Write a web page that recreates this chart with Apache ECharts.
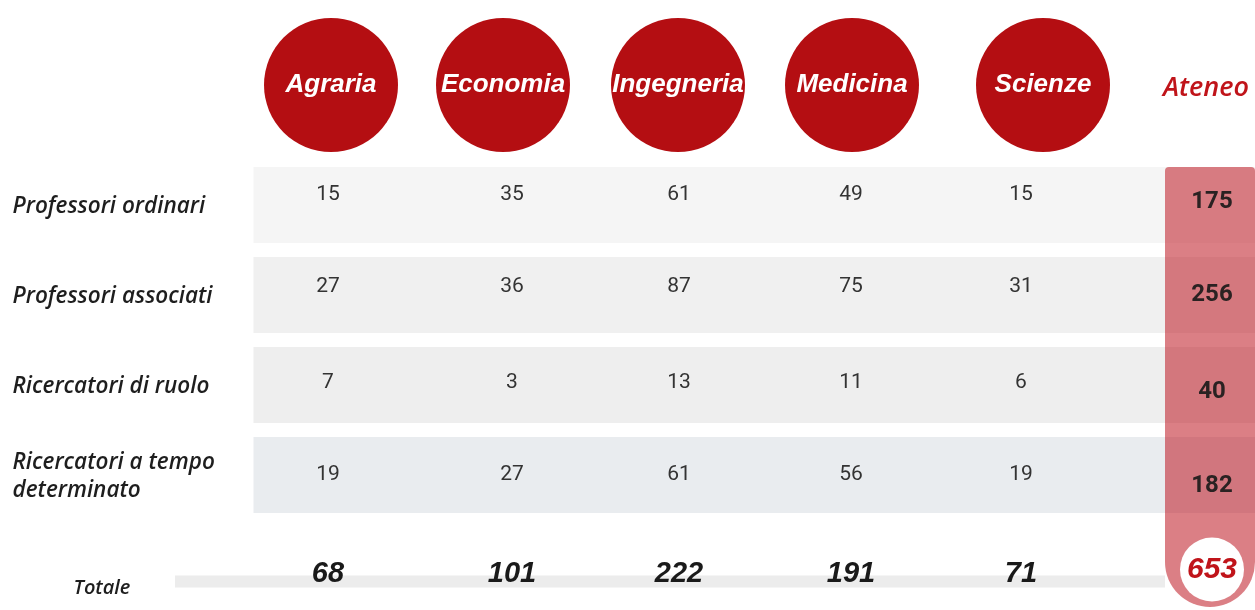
<!DOCTYPE html>
<html><head><meta charset="utf-8">
<script src="https://cdn.jsdelivr.net/npm/echarts@6/dist/echarts.min.js"></script>
<style>html,body{margin:0;padding:0;background:#fff}#c{width:1255px;height:610px}</style>
</head><body><div id="c"></div>
<script>
// ---- data ----
const departments = ['Agraria', 'Economia', 'Ingegneria', 'Medicina', 'Scienze'];
const ateneoLabel = 'Ateneo';
const roles = ['Professori ordinari', 'Professori associati', 'Ricercatori di ruolo', 'Ricercatori a tempo\ndeterminato'];
const professoriOrdinari = [15, 35, 61, 49, 15];
const professoriAssociati = [27, 36, 87, 75, 31];
const ricercatoriDiRuolo = [7, 3, 13, 11, 6];
const ricercatoriTempoDeterminato = [19, 27, 61, 56, 19];
const ateneoByRole = [175, 256, 40, 182];
const totaleLabel = 'Totale';
const totaleByDepartment = [68, 101, 222, 191, 71];
const totaleAteneo = 653;

// ---- build ----
const columns = departments.concat([ateneoLabel]);
const matrix = [professoriOrdinari, professoriAssociati, ricercatoriDiRuolo, ricercatoriTempoDeterminato];
const A = columns.length - 1; // Ateneo column index

const RED = '#b40e12';
const circleShift = [0, -3, -3, -4, 12];
const numShift = [-3, 6, -2, -5, -10];
const deptRowOffset = [-10, -8, -2, 0];
const ateRowOffset = [-3, 0, 7, 11];
const bandColors = ['#f5f5f5', '#f0f0f0', '#eeeeee', '#e9ecef'];

const headerData = columns.map((c, i) => [i, 0]);
const bandData = roles.map((r, i) => [0, i]);
const cellData = [];
matrix.forEach((row, ri) => row.forEach((v, ci) => cellData.push([ci, ri, v])));
const ateneoData = ateneoByRole.map((v, ri) => [A, ri, v]);
const totData = totaleByDepartment.map((v, ci) => [ci, 0, v]);

const labelFont = {fontFamily: 'Open Sans', fontStyle: 'italic', fontWeight: 600, color: '#1e1e1e'};

// column axis: one unit per column, the Ateneo column running off the right edge
function xAx(g) { return {type: 'value', gridIndex: g, min: -0.5, max: 5.28, show: false}; }

const chart = echarts.init(document.getElementById('c'), null, {renderer: 'canvas'});
chart.setOption({
  animation: false,
  backgroundColor: '#ffffff',
  grid: [
    {left: 243.5, right: 0, top: 18, height: 134},
    {left: 243.5, right: 0, top: 162, height: 360},
    {left: 243.5, right: 0, top: 553, height: 60}
  ],
  xAxis: [xAx(0), xAx(1), xAx(2)],
  yAxis: [
    {type: 'category', gridIndex: 0, data: ['h'], show: false},
    {type: 'category', gridIndex: 1, data: roles, inverse: true,
      axisLine: {show: false}, axisTick: {show: false}, splitLine: {show: false},
      axisLabel: Object.assign({align: 'left', margin: 231, fontSize: 22.5, lineHeight: 28}, labelFont)},
    {type: 'category', gridIndex: 2, data: [totaleLabel], show: false}
  ],
  series: [
    { // header circles
      type: 'custom', xAxisIndex: 0, yAxisIndex: 0, clip: false, z: 2, data: headerData,
      renderItem(params, api) {
        const i = api.value(0);
        const p = api.coord([i, 0]);
        const name = columns[i];
        if (i === A) {
          return {type: 'text', x: p[0], y: p[1] + 3,
            style: {text: name, fill: '#c0141a', font: 'italic 600 27px "Open Sans"', align: 'center', verticalAlign: 'middle'}};
        }
        const cx = p[0] + circleShift[i];
        return {type: 'group', children: [
          {type: 'circle', shape: {cx: cx, cy: p[1], r: 67}, style: {fill: RED}},
          {type: 'text', x: cx, y: p[1], style: {text: name, fill: '#ffffff',
            font: 'italic bold 26px "Liberation Sans"', align: 'center', verticalAlign: 'middle'}}
        ]};
      }
    },
    { // row bands
      type: 'custom', xAxisIndex: 1, yAxisIndex: 1, clip: false, z: 1, data: bandData,
      renderItem(params, api) {
        const r = api.value(1);
        const p0 = api.coord([0, r]);
        const s = api.size([1, 1]);
        const x0 = p0[0] - s[0] / 2 + 10;
        return {type: 'rect', shape: {x: x0, y: p0[1] - 40, width: 1300 - x0, height: 76},
          style: {fill: bandColors[r]}};
      }
    },
    { // Ateneo column overlay
      type: 'custom', xAxisIndex: 1, yAxisIndex: 1, clip: false, z: 3, data: [[A, 0]],
      renderItem(params, api) {
        const top = api.coord([A, 0]);
        const last = api.coord([A, roles.length - 1]);
        return {type: 'rect', shape: {x: top[0] - 41, y: top[1] - 40, width: 90,
          height: last[1] + 130 - (top[1] - 40), r: [4, 4, 45, 45]},
          style: {fill: 'rgba(190,22,32,0.55)'}};
      }
    },
    { // cell values
      type: 'custom', xAxisIndex: 1, yAxisIndex: 1, clip: false, z: 5, data: cellData,
      renderItem(params, api) {
        const c = api.value(0), r = api.value(1);
        const p = api.coord([c, r]);
        return {type: 'text', x: p[0] + numShift[c], y: p[1] + deptRowOffset[r] - 2,
          style: {text: String(api.value(2)), fill: '#333333', font: '21px Roboto', align: 'center', verticalAlign: 'middle'}};
      }
    },
    { // Ateneo values
      type: 'custom', xAxisIndex: 1, yAxisIndex: 1, clip: false, z: 5, data: ateneoData,
      renderItem(params, api) {
        const r = api.value(1);
        const p = api.coord([A, r]);
        return {type: 'text', x: p[0] + 6, y: p[1] + ateRowOffset[r] - 2,
          style: {text: String(api.value(2)), fill: '#2a2222', font: 'bold 24px Roboto', align: 'center', verticalAlign: 'middle'}};
      }
    },
    { // total band + label
      type: 'custom', xAxisIndex: 2, yAxisIndex: 2, clip: false, z: 1, data: [[0, 0]],
      renderItem(params, api) {
        const p0 = api.coord([0, 0]);
        const pa = api.coord([A, 0]);
        const x0 = p0[0] - 156;
        return {type: 'group', children: [
          {type: 'rect', shape: {x: x0, y: p0[1] - 6, width: pa[0] - 41 - x0, height: 12},
            style: {fill: '#ececec'}},
          {type: 'text', x: p0[0] - 229, y: p0[1] + 7, style: {text: totaleLabel, fill: '#1e1e1e',
            font: 'italic 600 20px "Open Sans"', align: 'center', verticalAlign: 'middle'}}
        ]};
      }
    },
    { // total values
      type: 'custom', xAxisIndex: 2, yAxisIndex: 2, clip: false, z: 5, data: totData,
      renderItem(params, api) {
        const c = api.value(0);
        const p = api.coord([c, 0]);
        return {type: 'text', x: p[0] + numShift[c], y: p[1] - 8,
          style: {text: String(api.value(2)), fill: '#1a1a1a', font: 'italic bold 29px "Liberation Sans"', align: 'center', verticalAlign: 'middle'}};
      }
    },
    { // Ateneo total
      type: 'custom', xAxisIndex: 2, yAxisIndex: 2, clip: false, z: 6, data: [[A, 0, totaleAteneo]],
      renderItem(params, api) {
        const p = api.coord([A, 0]);
        const cx = p[0] + 6, cy = p[1] - 12;
        return {type: 'group', children: [
          {type: 'circle', shape: {cx: cx, cy: cy, r: 32}, style: {fill: '#ffffff'}},
          {type: 'text', x: cx, y: cy, style: {text: String(api.value(2)), fill: '#c0141a',
            font: 'italic bold 30px "Liberation Sans"', align: 'center', verticalAlign: 'middle'}}
        ]};
      }
    }
  ]
});
</script></body></html>
